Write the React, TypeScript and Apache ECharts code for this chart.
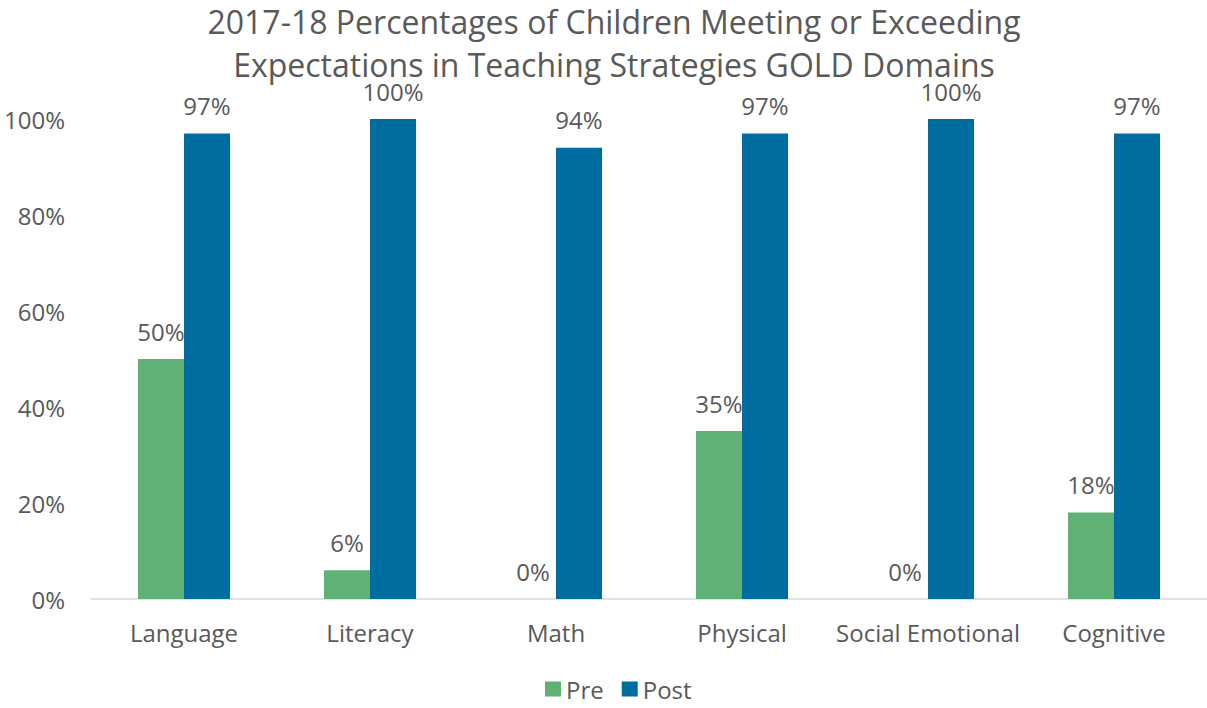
import React, { useEffect, useRef } from "react";
import * as echarts from "echarts";

const categories = ["Language", "Literacy", "Math", "Physical", "Social Emotional", "Cognitive"];
const preValues = [50, 6, 0, 35, 0, 18];
const postValues = [97, 100, 94, 97, 100, 97];
const yTicks = [0, 20, 40, 60, 80, 100];

export default function App() {
  const ref = useRef<HTMLDivElement>(null);
  useEffect(() => {
    const chart = echarts.init(ref.current!, null, { renderer: "svg" });
    const font = "'Open Sans', sans-serif";
    const textColor = "#595959";
    const label = {
      show: true,
      position: "top" as const,
      distance: 16,
      formatter: "{c}%",
      color: textColor,
      fontSize: 24,
      fontFamily: font,
    };
    chart.setOption({
      animation: false,
      textStyle: { fontFamily: font },
      title: {
        text: "2017-18 Percentages of Children Meeting or Exceeding\nExpectations in Teaching Strategies GOLD Domains",
        left: 614,
        textAlign: "center",
        top: 0,
        padding: 0,
        textStyle: { color: textColor, fontSize: 32, fontWeight: "normal", lineHeight: 43, fontFamily: font },
      },
      legend: {
        bottom: 7,
        left: 545,
        itemWidth: 16,
        itemHeight: 15,
        itemGap: 18,
        icon: "rect",
        padding: 0,
        textStyle: { color: textColor, fontSize: 24, fontFamily: font },
        data: ["Pre", "Post"],
      },
      grid: { left: 91, right: -2, top: 119, bottom: 109, containLabel: false },
      xAxis: {
        type: "category",
        data: categories,
        axisLine: { show: true, lineStyle: { color: "#D9D9D9", width: 1.5 } },
        axisTick: { show: false },
        axisLabel: { color: textColor, fontSize: 24, fontFamily: font, margin: 21, interval: 0 },
      },
      yAxis: {
        type: "value",
        min: yTicks[0],
        max: yTicks[yTicks.length - 1],
        interval: 20,
        splitLine: { show: false },
        axisLine: { show: false },
        axisTick: { show: false },
        axisLabel: { color: textColor, fontSize: 24, fontFamily: font, margin: 26, formatter: "{value}%" },
      },
      series: [
        {
          name: "Pre",
          type: "bar",
          data: preValues,
          barWidth: 46,
          barGap: "0%",
          itemStyle: { color: "#5FB175" },
          label,
        },
        {
          name: "Post",
          type: "bar",
          data: postValues,
          barWidth: 46,
          barGap: "0%",
          itemStyle: { color: "#006DA0" },
          label,
        },
      ],
    });
    return () => chart.dispose();
  }, []);
  return (
    <div
      ref={ref}
      style={{ position: "absolute", left: 0, top: 0, width: 1207, height: 708, background: "#fff" }}
    />
  );
}
